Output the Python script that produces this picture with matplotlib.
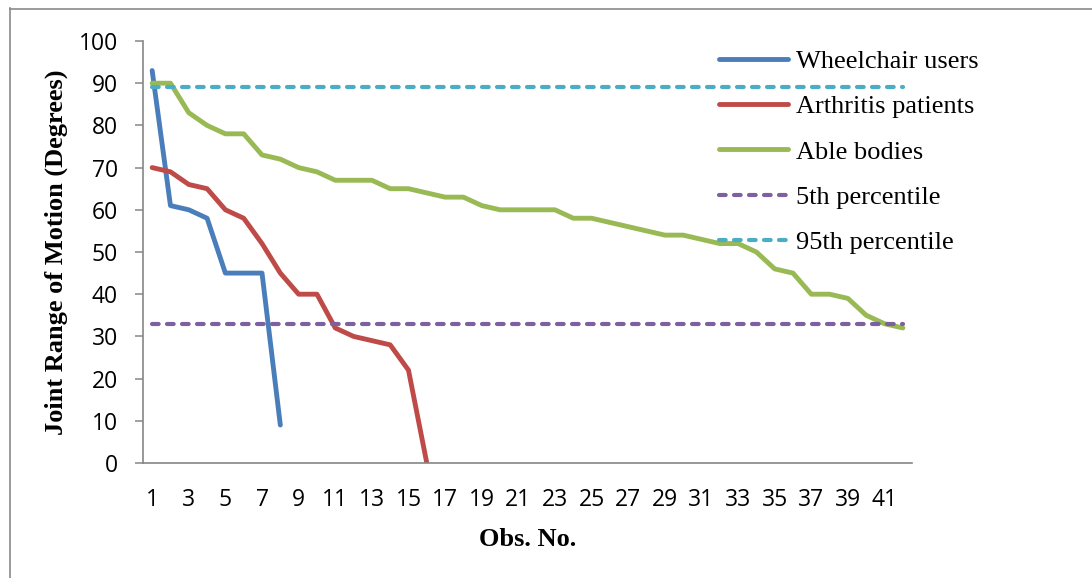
import matplotlib
matplotlib.use("Agg")
import matplotlib.pyplot as plt
from matplotlib.lines import Line2D

# Observed joint range of motion (degrees), sorted by observation
wheelchair = [93, 61, 60, 58, 45, 45, 45, 9]
arthritis = [70, 69, 66, 65, 60, 58, 52, 45, 40, 40, 32, 30, 29, 28, 22, 0]
able = [90, 90, 83, 80, 78, 78, 73, 72, 70, 69, 67, 67, 67, 65, 65, 64, 63, 63,
        61, 60, 60, 60, 60, 58, 58, 57, 56, 55, 54, 54, 53, 52, 52, 50, 46, 45,
        40, 40, 39, 35, 33, 32]
p5_value = 33
p95_value = 89

series_names = ["Wheelchair users", "Arthritis patients", "Able bodies",
                "5th percentile", "95th percentile"]
y_ticks = [0, 10, 20, 30, 40, 50, 60, 70, 80, 90, 100]
x_ticks = list(range(1, 42, 2))

n_obs = len(able)
obs = list(range(1, n_obs + 1))

colors = {
    "blue": "#4A7EBB",
    "red": "#BE4B48",
    "green": "#98B954",
    "purple": "#7D60A0",
    "cyan": "#4BACC6",
}

W, H = 1092, 578
fig = plt.figure(figsize=(W / 100, H / 100), dpi=100)
ax = fig.add_axes([143 / W, 1 - 463 / H, (912 - 143) / W, (463 - 41) / H])

lw = 3.5
dlw = 3.0
dash = (1.6, 2.0)
ax.plot(obs[:len(wheelchair)], wheelchair, color=colors["blue"], lw=lw,
        solid_capstyle="round", solid_joinstyle="round")
ax.plot(obs[:len(arthritis)], arthritis, color=colors["red"], lw=lw,
        solid_capstyle="round", solid_joinstyle="round")
ax.plot(obs, able, color=colors["green"], lw=lw,
        solid_capstyle="round", solid_joinstyle="round")
ax.plot(obs, [p5_value] * n_obs, color=colors["purple"], lw=dlw,
        dashes=dash, dash_capstyle="round")
ax.plot(obs, [p95_value] * n_obs, color=colors["cyan"], lw=dlw,
        dashes=dash, dash_capstyle="round")

ax.set_xlim(0.5, n_obs + 0.5)
ax.set_ylim(0, 100)

tick_font = "Open Sans"
serif_font = "Liberation Serif"

ax.set_yticks(y_ticks)
ax.set_yticklabels([str(v) for v in y_ticks], fontfamily=tick_font, fontsize=16.5)
ax.set_xticks(x_ticks)
ax.set_xticklabels([str(v) for v in x_ticks], fontfamily=tick_font, fontsize=16.5)
ax.tick_params(axis="y", direction="out", length=6, width=1.1,
               color="#868686", pad=12)
ax.tick_params(axis="x", length=0, pad=18)

for side in ("top", "right"):
    ax.spines[side].set_visible(False)
for side in ("left", "bottom"):
    ax.spines[side].set_color("#868686")
    ax.spines[side].set_linewidth(1.2)

# Axis titles
fig.text(56 / W, 1 - 252 / H, "Joint Range of Motion (Degrees)", rotation=90,
         ha="center", va="center", fontfamily=serif_font, fontweight="bold",
         fontsize=19)
fig.text(528 / W, 1 - 540 / H, "Obs. No.", ha="center", va="center",
         fontfamily=serif_font, fontweight="bold", fontsize=19)

# Legend
handles = [
    Line2D([], [], color=colors["blue"], lw=lw, solid_capstyle="round"),
    Line2D([], [], color=colors["red"], lw=lw, solid_capstyle="round"),
    Line2D([], [], color=colors["green"], lw=lw, solid_capstyle="round"),
    Line2D([], [], color=colors["purple"], lw=dlw, dashes=dash,
           dash_capstyle="round"),
    Line2D([], [], color=colors["cyan"], lw=dlw, dashes=dash,
           dash_capstyle="round"),
]
fig.legend(handles, series_names, loc="upper left",
           bbox_to_anchor=(719 / W, 1 - 49.5 / H), bbox_transform=fig.transFigure,
           frameon=False, borderpad=0, borderaxespad=0, handlelength=2.6,
           handletextpad=0.3, labelspacing=0.83,
           prop={"family": serif_font, "size": 19})

# Outer frame (left and top edges)
fig.add_artist(Line2D([9.5 / W, 9.5 / W], [0, 1 - 8 / H], color="#8A8A8A",
                      lw=1.2, transform=fig.transFigure))
fig.add_artist(Line2D([9.5 / W, 1], [1 - 8.5 / H, 1 - 8.5 / H], color="#8A8A8A",
                      lw=1.2, transform=fig.transFigure))

fig.savefig("out.png", dpi=100)
